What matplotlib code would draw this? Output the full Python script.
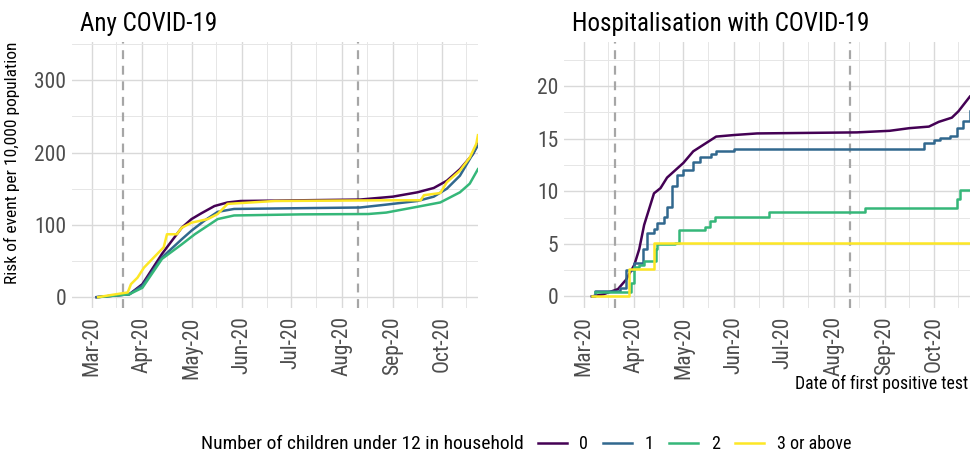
import matplotlib
matplotlib.use("Agg")
import matplotlib.pyplot as plt
import matplotlib.dates as mdates
from matplotlib.ticker import MultipleLocator
import pandas as pd

plt.rcParams['font.family'] = ['Roboto Condensed', 'DejaVu Sans']

# series colours (viridis, 4 levels)
groups = ['0', '1', '2', '3 or above']
colors = ['#440154', '#31688E', '#35B779', '#FDE725']

# dashed reference dates
vdates = ['2020-03-20', '2020-08-11']

# ---- Any COVID-19 (risk per 10,000) ----
any_d0 = ['2020-03-04', '2020-03-24', '2020-04-01', '2020-04-13', '2020-04-25', '2020-05-01', '2020-05-07',
          '2020-05-15', '2020-05-23', '2020-05-31', '2020-06-20', '2020-08-12', '2020-09-01', '2020-09-16',
          '2020-09-26', '2020-10-04', '2020-10-12', '2020-10-20', '2020-10-23']
any_v0 = [0, 4, 18, 60, 96, 108, 116, 126, 131, 133, 133.5, 135, 139, 145, 151, 161, 177, 198, 212]

any_d1 = ['2020-03-04', '2020-03-24', '2020-04-01', '2020-04-13', '2020-04-25', '2020-05-01', '2020-05-09',
          '2020-05-17', '2020-05-27', '2020-08-12', '2020-08-28', '2020-09-16', '2020-09-26', '2020-10-04',
          '2020-10-12', '2020-10-23']
any_v1 = [0, 4, 16, 55, 80, 92, 106, 118, 122, 124, 128, 133, 139, 150, 168, 210]

any_d2 = ['2020-03-05', '2020-03-24', '2020-04-01', '2020-04-13', '2020-04-25', '2020-05-03', '2020-05-11',
          '2020-05-17', '2020-05-27', '2020-07-07', '2020-08-17', '2020-08-28', '2020-09-16', '2020-09-30',
          '2020-10-12', '2020-10-18', '2020-10-23']
any_v2 = [0, 4, 13, 53, 73, 87, 99, 108, 113, 114.5, 115, 117, 125, 131, 145, 157, 177]

any_d3 = ['2020-03-05', '2020-03-13', '2020-03-23', '2020-03-25', '2020-03-29', '2020-04-02', '2020-04-08',
          '2020-04-14', '2020-04-16', '2020-04-22', '2020-04-25', '2020-05-01', '2020-05-11', '2020-05-17',
          '2020-05-23', '2020-06-21', '2020-09-01', '2020-09-18', '2020-09-20', '2020-09-30', '2020-10-04',
          '2020-10-12', '2020-10-18', '2020-10-22', '2020-10-23']
any_v3 = [0, 3, 6.5, 18, 27, 41, 55, 69, 87, 87, 96, 103, 108, 115, 129, 133, 134, 134, 141, 144, 159,
          175, 193, 212, 224]

# ---- Hospitalisation (risk per 10,000) ----
hosp_d0 = ['2020-03-06', '2020-03-13', '2020-03-22', '2020-03-27', '2020-04-01', '2020-04-04', '2020-04-07',
           '2020-04-10', '2020-04-13', '2020-04-17', '2020-04-21', '2020-04-26', '2020-05-01', '2020-05-07',
           '2020-05-15', '2020-05-21', '2020-06-01', '2020-06-15', '2020-08-15', '2020-09-04', '2020-09-16',
           '2020-09-28', '2020-10-04', '2020-10-12', '2020-10-16', '2020-10-19', '2020-10-23']
hosp_v0 = [0, 0.2, 0.7, 1.6, 3.0, 4.5, 6.8, 8.3, 9.8, 10.3, 11.3, 12.0, 12.7, 13.8, 14.6, 15.2, 15.35,
           15.5, 15.6, 15.75, 16.0, 16.15, 16.6, 17.0, 17.6, 18.2, 19.0]

hosp_d1 = ['2020-03-06', '2020-03-08', '2020-03-23', '2020-03-27', '2020-04-01', '2020-04-06', '2020-04-09',
           '2020-04-13', '2020-04-15', '2020-04-19', '2020-04-21', '2020-04-24', '2020-04-27', '2020-05-01',
           '2020-05-07', '2020-05-11', '2020-05-18', '2020-05-21', '2020-06-01', '2020-09-25', '2020-10-01',
           '2020-10-05', '2020-10-11', '2020-10-15', '2020-10-19', '2020-10-23']
hosp_v1 = [0, 0.5, 0.8, 2.5, 3.2, 4.5, 6.0, 6.4, 7.0, 7.6, 8.5, 10.5, 11.5, 12.0, 12.8, 13.3, 13.5, 13.8,
           14.05, 14.6, 14.9, 15.1, 15.3, 16.0, 16.7, 17.6]

hosp_d2 = ['2020-03-08', '2020-03-30', '2020-04-01', '2020-04-04', '2020-04-07', '2020-04-14', '2020-04-15',
           '2020-04-26', '2020-04-28', '2020-05-14', '2020-05-17', '2020-05-20', '2020-06-22', '2020-08-20',
           '2020-10-15', '2020-10-17', '2020-10-23']
hosp_v2 = [0.45, 1.25, 2.8, 3.0, 3.4, 4.5, 5.0, 5.1, 6.3, 6.6, 7.2, 7.6, 8.0, 8.4, 9.3, 10.1, 10.1]

hosp_d3 = ['2020-03-06', '2020-03-29', '2020-04-13', '2020-10-23']
hosp_v3 = [0, 2.6, 5.1, 5.1]

any_series = [(any_d0, any_v0), (any_d1, any_v1), (any_d2, any_v2), (any_d3, any_v3)]
hosp_series = [(hosp_d0, hosp_v0), (hosp_d1, hosp_v1), (hosp_d2, hosp_v2), (hosp_d3, hosp_v3)]

fig = plt.figure(figsize=(9.71, 4.54), dpi=100)
ax1 = fig.add_axes([0.0742, 0.3216, 0.418, 0.586])
ax2 = fig.add_axes([0.5808, 0.3216, 0.418, 0.586])

tick_col = '#4D4D4D'
for ax, series, title, ylim, ymaj, ymin in [
        (ax1, any_series, 'Any COVID-19', (-15, 353), 100, 50),
        (ax2, hosp_series, 'Hospitalisation with COVID-19', (-1.1, 24.2), 5, 2.5)]:
    for (d, v), c in zip(series, colors):
        style = 'steps-post' if ax is ax2 and c != colors[0] else 'default'
        ax.plot(pd.to_datetime(d), v, color=c, lw=1.8, drawstyle=style)
    for vd in vdates:
        ax.axvline(pd.Timestamp(vd), color='#A6A6A6', ls=(0, (4, 3)), lw=1.6, zorder=1)
    ax.set_xlim(pd.Timestamp('2020-02-18'), pd.Timestamp('2020-10-23'))
    ax.set_ylim(*ylim)
    ax.xaxis.set_major_locator(mdates.MonthLocator())
    ax.xaxis.set_minor_locator(mdates.MonthLocator(bymonthday=16))
    ax.xaxis.set_major_formatter(mdates.DateFormatter('%b-%y'))
    ax.yaxis.set_major_locator(MultipleLocator(ymaj))
    ax.yaxis.set_minor_locator(MultipleLocator(ymin))
    ax.grid(which='major', color='#D9D9D9', lw=1.0)
    ax.grid(which='minor', color='#E6E6E6', lw=0.7)
    ax.set_axisbelow(True)
    ax.tick_params(which='both', length=0)
    ax.tick_params(axis='both', labelsize=15.5, colors=tick_col)
    ax.tick_params(axis='x', pad=6)
    ax.tick_params(axis='y', pad=4)
    plt.setp(ax.get_xticklabels(), rotation=90, ha='center', va='top')
    for s in ax.spines.values():
        s.set_visible(False)
    ax.set_title(title, loc='left', fontsize=18, pad=8, x=0.02)

ax1.set_ylabel('Risk of event per 10,000 population', fontsize=12.5)
ax1.yaxis.set_label_coords(-0.128, 0.545)
fig.text(0.997, 0.154, 'Date of first positive test', ha='right', va='center', fontsize=12.7)

# legend
fig.text(0.207, 0.022, 'Number of children under 12 in household', ha='left', va='center', fontsize=14)
handles = [plt.Line2D([], [], color=c, lw=1.8) for c in colors]
fig.legend(handles, groups, loc='center left', bbox_to_anchor=(0.537, 0.022), ncol=4, frameon=False,
           fontsize=13, handlelength=1.6, handletextpad=0.7, columnspacing=0.85)

fig.savefig('out.png', dpi=100)
